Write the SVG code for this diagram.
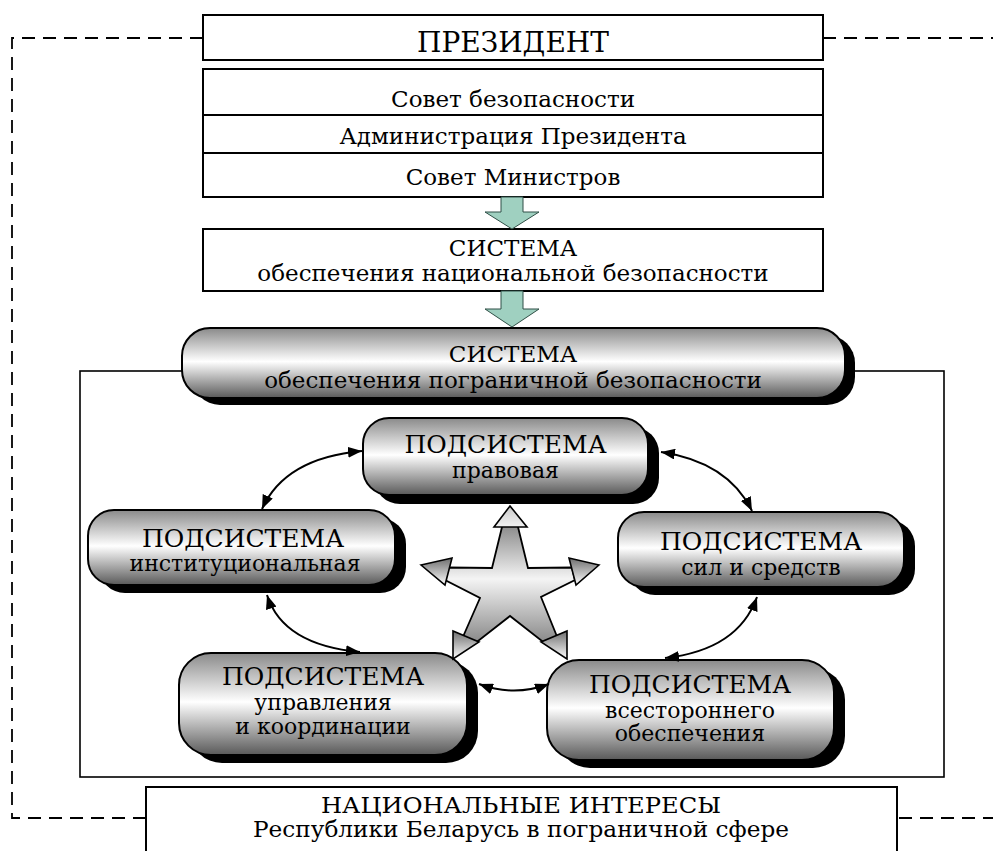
<svg xmlns="http://www.w3.org/2000/svg" width="993" height="851" viewBox="0 0 993 851">
<style>
.t{font-family:"DejaVu Serif","Liberation Serif",serif;fill:#000;text-anchor:middle}
.box{fill:#fff;stroke:#000;stroke-width:2}
.rbox{fill:url(#cyl);stroke:#000;stroke-width:2}
.sh{fill:#000}
.dash{fill:none;stroke:#000;stroke-width:1.8;stroke-dasharray:13 8}
.conn{fill:none;stroke:#000;stroke-width:2;marker-start:url(#ah);marker-end:url(#ah)}
.block{fill:#9fd0c0;stroke:#2f4f46;stroke-width:1}
.star{fill:url(#starg);stroke:#000;stroke-width:1.8;stroke-linejoin:miter}
.head{fill:url(#headg);stroke:#000;stroke-width:1.6}
.f28{font-size:28px}.f23{font-size:23px}.f25{font-size:25px}.f22{font-size:22px}
</style>
<defs>
<linearGradient id="cyl" x1="0" y1="0" x2="0" y2="1">
<stop offset="0" stop-color="#8a8a8a"/>
<stop offset="0.48" stop-color="#ffffff"/>
<stop offset="1" stop-color="#595959"/>
</linearGradient>
<linearGradient id="starg" x1="0" y1="0" x2="0" y2="1">
<stop offset="0" stop-color="#8a8a8a"/>
<stop offset="0.45" stop-color="#f4f4f4"/>
<stop offset="1" stop-color="#858585"/>
</linearGradient>
<linearGradient id="headg" x1="0" y1="0" x2="0" y2="1">
<stop offset="0" stop-color="#6e6e6e"/>
<stop offset="1" stop-color="#ffffff"/>
</linearGradient>
<linearGradient id="headt" x1="0" y1="0" x2="0" y2="1">
<stop offset="0" stop-color="#c8c8c8"/>
<stop offset="1" stop-color="#f2f2f2"/>
</linearGradient>
<marker id="ah" viewBox="0 0 10 10" refX="10" refY="5" markerWidth="14" markerHeight="11" markerUnits="userSpaceOnUse" orient="auto-start-reverse" preserveAspectRatio="none">
<path d="M0,0 L10,5 L0,10 z" fill="#000"/>
</marker>
</defs>

<g id="dashed-links">
<path class="dash" d="M203,38 H12 V818 H146"/>
<path class="dash" d="M823,38 H993"/>
<path class="dash" d="M899,818 H993"/>
</g>

<g id="frame">
<rect x="80" y="371" width="864" height="406" fill="none" stroke="#000" stroke-width="1.6"/>
</g>

<g id="president">
<rect class="box" x="203" y="15" width="620" height="45"/>
<text class="t f28" x="513" y="52">ПРЕЗИДЕНТ</text>
</g>

<g id="bodies">
<rect class="box" x="203" y="69" width="620" height="128"/>
<line x1="203" y1="115" x2="823" y2="115" stroke="#000" stroke-width="2"/>
<line x1="203" y1="153" x2="823" y2="153" stroke="#000" stroke-width="2"/>
<text class="t f23" x="513" y="107">Совет безопасности</text>
<text class="t f23" x="513" y="144">Администрация Президента</text>
<text class="t f23" x="513" y="185">Совет Министров</text>
</g>

<g id="national-system">
<rect class="box" x="203" y="229" width="620" height="62"/>
<text class="t f23" x="513" y="256">СИСТЕМА</text>
<text class="t f23" x="513" y="281">обеспечения национальной безопасности</text>
</g>

<g id="border-system">
<rect class="sh" x="192" y="335" width="663" height="70" rx="28"/>
<rect class="rbox" x="182" y="328" width="663" height="70" rx="28"/>
<text class="t f23" x="513" y="362">СИСТЕМА</text>
<text class="t f23" x="513" y="388">обеспечения пограничной безопасности</text>
</g>

<g id="sub-legal">
<rect class="sh" x="374" y="427" width="285" height="77" rx="26"/>
<rect class="rbox" x="363" y="418" width="285" height="77" rx="26"/>
<text class="t f25" x="505.5" y="453">ПОДСИСТЕМА</text>
<text class="t f22" x="505.5" y="478">правовая</text>
</g>

<g id="sub-institutional">
<rect class="sh" x="99" y="518" width="307" height="75" rx="26"/>
<rect class="rbox" x="88" y="510" width="307" height="75" rx="26"/>
<text class="t f25" x="243" y="547">ПОДСИСТЕМА</text>
<text class="t f22" x="245" y="571">институциональная</text>
</g>

<g id="sub-forces">
<rect class="sh" x="629" y="520" width="286" height="75" rx="26"/>
<rect class="rbox" x="618" y="512" width="286" height="75" rx="26"/>
<text class="t f25" x="761" y="550">ПОДСИСТЕМА</text>
<text class="t f22" x="761" y="575">сил и средств</text>
</g>

<g id="sub-management">
<rect class="sh" x="190" y="661" width="288" height="102" rx="32"/>
<rect class="rbox" x="179" y="653" width="288" height="102" rx="32"/>
<text class="t f25" x="323" y="685">ПОДСИСТЕМА</text>
<text class="t f22" x="323" y="710">управления</text>
<text class="t f22" x="323" y="734">и координации</text>
</g>

<g id="sub-support">
<rect class="sh" x="558" y="668" width="287" height="100" rx="32"/>
<rect class="rbox" x="547" y="660" width="287" height="100" rx="32"/>
<text class="t f25" x="690" y="693">ПОДСИСТЕМА</text>
<text class="t f22" x="690" y="718">всестороннего</text>
<text class="t f22" x="690" y="741">обеспечения</text>
</g>

<g id="national-interests">
<rect class="box" x="146" y="787" width="751" height="80"/>
<text class="t f23" x="521" y="813" textLength="400" lengthAdjust="spacingAndGlyphs">НАЦИОНАЛЬНЫЕ ИНТЕРЕСЫ</text>
<text class="t f23" x="521" y="837" textLength="536" lengthAdjust="spacingAndGlyphs">Республики Беларусь в пограничной сфере</text>
</g>

<g id="star">
<polygon class="star" points="502.5,525 517.5,525 528,568 572,567.5 575,580 541,597 558,639 547,645 510,616 473,645 462,639 480,598 445,580 448,567.5 492,568"/>
<polygon class="head" style="fill:url(#headt)" points="510,506 527,527 494,527"/>
<polygon class="head" points="421,565 452,558 445,585"/>
<polygon class="head" points="599,565 569,558 576,585"/>
<polygon class="head" points="453,659 453,631 479,642"/>
<polygon class="head" points="567,659 567,631 541,642"/>
</g>

<g id="connectors">
<polygon class="block" points="501,197 523,197 523,212 539,212 512,229 485,212 501,212"/>
<polygon class="block" points="501,291 523,291 523,309 539,309 512,327 485,309 501,309"/>
<path class="conn" d="M262,509 Q285,458 362,451"/>
<path class="conn" d="M661,452 Q728,462 752,511"/>
<path class="conn" d="M267,595 Q283,645 360,652"/>
<path class="conn" d="M757,597 Q738,650 665,658"/>
<path class="conn" d="M479,684 Q514,697 549,684"/>
</g>
</svg>
